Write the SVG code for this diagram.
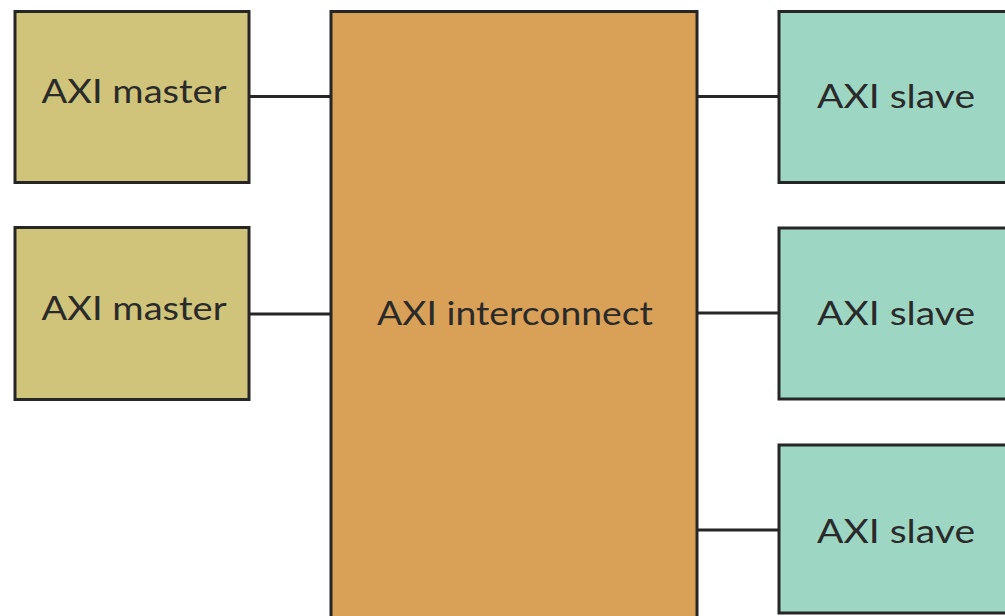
<svg xmlns="http://www.w3.org/2000/svg" width="1005" height="616" viewBox="0 0 1005 616">
  <style>
    .box { stroke: #262626; stroke-width: 3; }
    .master { fill: #cfc47a; }
    .hub { fill: #d9a157; }
    .slave { fill: #9dd7c4; }
    .label { font-family: Lato, "Open Sans", "Liberation Sans", sans-serif; font-size: 32px; fill: #2a2a2a; text-anchor: middle; }
    .wire { stroke: #262626; stroke-width: 3; fill: none; }
  </style>
  <rect width="1005" height="616" fill="#ffffff"/>
  <g id="connectors">
    <line class="wire" x1="249" y1="96.5" x2="331" y2="96.5"/>
    <line class="wire" x1="249" y1="314" x2="331" y2="314"/>
    <line class="wire" x1="697" y1="96.5" x2="779" y2="96.5"/>
    <line class="wire" x1="697" y1="313" x2="779" y2="313"/>
    <line class="wire" x1="697" y1="530" x2="779" y2="530"/>
  </g>
  <g id="master1">
    <rect class="box master" x="15" y="11.5" width="234" height="171"/>
    <text class="label" x="134" y="103" textLength="185" lengthAdjust="spacingAndGlyphs">AXI master</text>
  </g>
  <g id="master2">
    <rect class="box master" x="15" y="227.5" width="234" height="172"/>
    <text class="label" x="134" y="320" textLength="185" lengthAdjust="spacingAndGlyphs">AXI master</text>
  </g>
  <g id="interconnect">
    <rect class="box hub" x="331" y="11.5" width="366" height="620"/>
    <text class="label" x="515" y="325" textLength="276" lengthAdjust="spacingAndGlyphs">AXI interconnect</text>
  </g>
  <g id="slave1">
    <rect class="box slave" x="779" y="11.5" width="240" height="171"/>
    <text class="label" x="896" y="108" textLength="158" lengthAdjust="spacingAndGlyphs">AXI slave</text>
  </g>
  <g id="slave2">
    <rect class="box slave" x="779" y="228" width="240" height="171"/>
    <text class="label" x="896" y="325" textLength="158" lengthAdjust="spacingAndGlyphs">AXI slave</text>
  </g>
  <g id="slave3">
    <rect class="box slave" x="779" y="445" width="240" height="168"/>
    <text class="label" x="896" y="543" textLength="158" lengthAdjust="spacingAndGlyphs">AXI slave</text>
  </g>
</svg>
